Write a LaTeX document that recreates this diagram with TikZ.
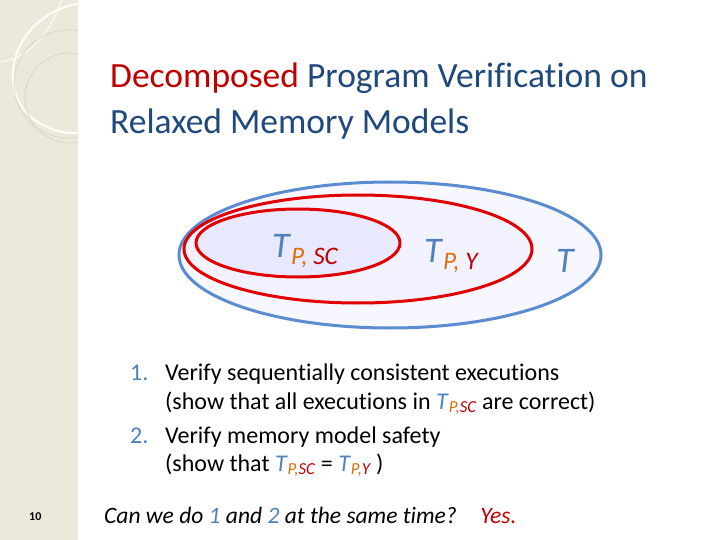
\documentclass[tikz,border=0pt]{standalone}
\usepackage{fontspec}
\setmainfont[RawFeature=-liga]{Carlito}
\definecolor{tblue}{HTML}{4F81BD}
\definecolor{tred}{HTML}{C00000}
\definecolor{torange}{HTML}{E36C09}
\definecolor{ttitle}{HTML}{1F497D}
\definecolor{beige}{HTML}{ECE9DA}
\definecolor{redline}{HTML}{E00000}
\definecolor{blueline}{HTML}{5B8BD0}
\tikzset{
  lab/.style={anchor=base west,inner sep=0pt},
  item/.style={anchor=base west,inner sep=0pt,font=\fontsize{24}{28}\selectfont}
}
\newcommand{\Tsub}[2]{\textcolor{tblue}{\textit{T}}\textsubscript{\textit{\textcolor{torange}{#1}\textcolor{tred}{#2}}}}
\begin{document}
\begin{tikzpicture}[x=1pt,y=-1pt]
\useasboundingbox (0,0) rectangle (720,540);
\fill[white] (0,0) rectangle (720,540);
\fill[beige] (0,0) rectangle (78,540);
\begin{scope}
\clip (0,0) rectangle (78,540);
\draw[white!90!beige,line width=2pt] (82,3) .. controls (30,10) and (0,60) .. (18,100) .. controls (30,125) and (60,135) .. (80,133);
\draw[white!85!beige,line width=1pt] (0,62) .. controls (20,60) and (45,45) .. (62,0);
\draw[beige!80!gray,line width=0.7pt] (68,84) circle[radius=54];
\draw[beige!80!gray,line width=0.7pt] (70,98) circle[radius=45];
\end{scope}
\node[lab,font=\fontsize{35.5}{38}\selectfont] (t1) at (110,88) {\textcolor{tred}{Decomposed} \textcolor{ttitle}{Program Verification on}};
\node[lab,font=\fontsize{35.5}{38}\selectfont] (t2) at (110,134) {\textcolor{ttitle}{Relaxed Memory Models}};
\path[fill=blue!3,draw=blueline,line width=3pt] (390,255) ellipse[x radius=211,y radius=73] coordinate (outer);
\path[fill=blue!5,draw=redline,line width=3pt] (358,249) ellipse[x radius=174,y radius=54] coordinate (mid);
\path[fill=blue!9,draw=redline,line width=3pt] (298,243) ellipse[x radius=102,y radius=34] coordinate (inner);
\node[lab,font=\fontsize{36}{38}\selectfont] (a) at (272,257) {\textcolor{tblue}{\textit{T}}\textsubscript{\textit{\textcolor{torange}{P,} \textcolor{tred}{SC}}}};
\node[lab,font=\fontsize{36}{38}\selectfont] (b) at (424,262) {\textcolor{tblue}{\textit{T}}\textsubscript{\textit{\textcolor{torange}{P,} \textcolor{tred}{Y}}}};
\node[lab,font=\fontsize{36}{38}\selectfont] (c) at (556,272) {\textcolor{tblue}{\textit{T}}};
\node[item] (n1) at (130,380) {\textcolor{tblue}{1.}};
\node[item] (l1) at (165,380) {Verify sequentially consistent executions};
\node[item] (l2) at (165,409) {(show that all executions in \Tsub{P,}{SC} are correct)};
\node[item] (n2) at (130,443) {\textcolor{tblue}{2.}};
\node[item] (l3) at (165,443) {Verify memory model safety};
\node[item] (l4) at (165,471) {(show that \Tsub{P,}{SC} = \Tsub{P,}{Y} )};
\node[lab,font=\fontsize{12}{13}\selectfont\bfseries] (pg) at (29,520) {10};
\node[lab,font=\fontsize{23.5}{27}\selectfont\itshape] (q) at (104,523) {Can we do \textcolor{tblue}{1} and \textcolor{tblue}{2} at the same time?\quad \textcolor{tred}{Yes.}};
\end{tikzpicture}
\end{document}
